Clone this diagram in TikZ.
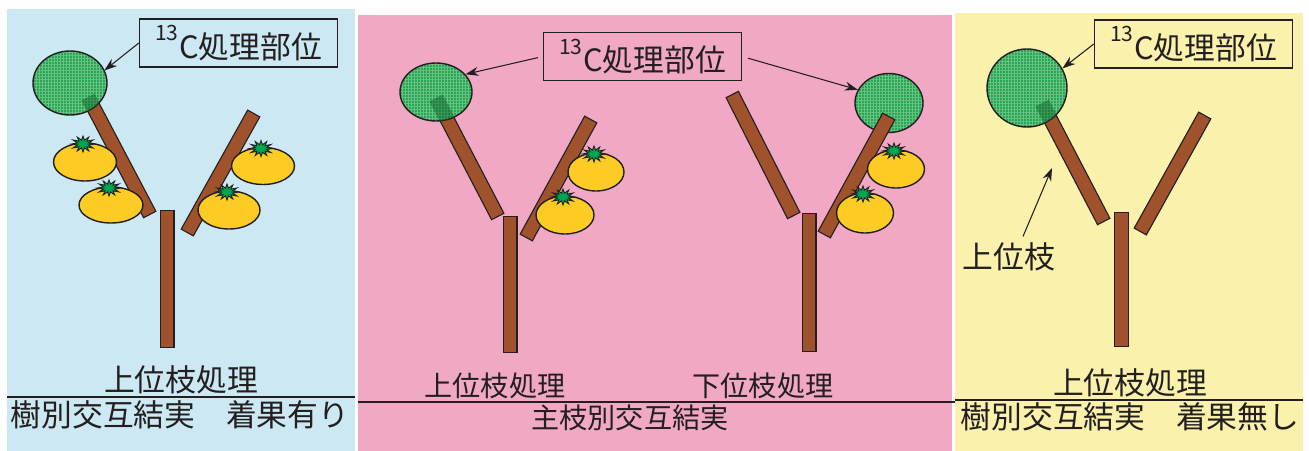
\documentclass[tikz,border=0pt]{standalone}
\usepackage{fontspec}
\usetikzlibrary{shapes.geometric, arrows.meta, patterns.meta, calc}
\newfontfamily\jpfont{Noto Sans CJK JP}
\definecolor{skyback}{RGB}{203,232,243}
\definecolor{pinkback}{RGB}{240,168,196}
\definecolor{creamback}{RGB}{249,241,172}
\definecolor{bark}{RGB}{160,82,45}
\definecolor{fruitcolor}{RGB}{252,204,36}
\definecolor{leafcolor}{RGB}{40,165,85}
\definecolor{leafgrid}{RGB}{105,195,130}
\definecolor{leafshade}{RGB}{20,100,45}
\definecolor{calyxcolor}{RGB}{0,165,80}
\definecolor{inkcolor}{RGB}{35,31,32}

% branch: outlined bar between two points
\newcommand\limb[2]{%
  \draw[limb edge] #1 -- #2;
  \draw[limb core] #1 -- #2;}
% fruit with its calyx on top: x, y, x radius, y radius
\newcommand\persimmon[4]{%
  \filldraw[fruit] (#1,#2) ellipse [x radius=#3, y radius=#4];
  \draw[calyx, shift={({#1-2},{#2-#4+1})}] plot[domain=0:360, samples=25, variable=\t]
    ({11.5*(0.75+0.25*cos(12*\t))*cos(\t)}, {8*(0.75+0.25*cos(12*\t))*sin(\t)}) -- cycle;}
\newcommand\carbonlabel{\raisebox{10pt}{\fontsize{12pt}{12pt}\selectfont 13}\kern0.5pt C処理部位}

\begin{document}
\begin{tikzpicture}[
    x=0.2mm, y=-0.2mm,
    tag/.style={rectangle, draw=inkcolor, line width=0.8pt, minimum width=39.6mm, minimum height=9.6mm, inner sep=0pt, text=inkcolor, font=\jpfont\fontsize{17.5pt}{20pt}\selectfont},
    caption/.style={inner sep=0pt, text=inkcolor, font=\jpfont\fontsize{17.5pt}{20pt}\selectfont},
    small caption/.style={inner sep=0pt, text=inkcolor, font=\jpfont\fontsize{16pt}{18pt}\selectfont},
    leaf/.style={ellipse, draw=inkcolor, line width=0.8pt, preaction={fill=leafcolor}, pattern={Hatch[angle=0, distance=0.6mm, line width=0.25pt]}, pattern color=leafgrid, inner sep=0pt},
    arrow/.style={-{Stealth[length=2.6mm, width=1.8mm]}, draw=inkcolor, line width=0.6pt},
    limb edge/.style={line width=3mm, draw=inkcolor},
    limb core/.style={line width=2.5mm, draw=bark, shorten <=0.25mm, shorten >=0.25mm},
    limb shade/.style={line width=3mm, draw=leafshade, opacity=0.5},
    fruit/.style={fill=fruitcolor, draw=inkcolor, line width=0.8pt},
    calyx/.style={fill=calyxcolor, draw=inkcolor, line width=0.5pt},
    divider/.style={draw=inkcolor, line width=0.9pt}
]
    \useasboundingbox (0,0) rectangle (1309,451);

    % Panel backgrounds
    \fill[skyback] (7,9) rectangle (355,451);
    \fill[pinkback] (358,15) rectangle (952,451);
    \fill[creamback] (955,13) rectangle (1303,451);

    % Tree 1: upper branch treated, fruit on both branches
    \limb{(88,97)}{(150,215)}
    \limb{(187,233)}{(254,113)}
    \limb{(167,210)}{(167,348)}
    \node[leaf, minimum width=14.8mm, minimum height=12.8mm] (leaf1) at (70,83) {};
    \begin{scope}
        \clip (70,83) ellipse [x radius=37, y radius=32];
        \draw[limb shade] (88,97) -- (150,215);
    \end{scope}
    \persimmon{85}{162}{31.5}{19}
    \persimmon{111}{205}{32}{18}
    \persimmon{263}{166}{31.5}{18.5}
    \persimmon{229}{210}{31}{19}
    \node[tag] (tag1) at (238.5,43) {\carbonlabel};
    \draw[arrow] (tag1.west) -- (leaf1.20);

    % Tree 2: upper branch treated, fruit on the other branch
    \limb{(436,98)}{(498,217)}
    \limb{(510,216)}{(510,353)}
    \limb{(526,238)}{(591,119)}
    \node[leaf, minimum width=14.4mm, minimum height=11.6mm] (leaf2) at (436,92) {};
    \begin{scope}
        \clip (436,92) ellipse [x radius=36, y radius=29];
        \draw[limb shade] (436,98) -- (498,217);
    \end{scope}
    \persimmon{596}{172}{28}{19}
    \persimmon{565}{215}{29}{19}

    % Tree 3: lower branch treated, fruit on the treated branch
    \node[leaf, minimum width=13.6mm, minimum height=11.8mm] (leaf3) at (889,103) {};
    \limb{(732,94)}{(794,216)}
    \limb{(809,213)}{(809,352)}
    \limb{(824,235)}{(889,116)}
    \persimmon{896}{169}{28.5}{19}
    \persimmon{865}{213}{28.5}{20}

    \node[tag] (tag2) at (642.5,56.5) {\carbonlabel};
    \draw[arrow, shorten <=1mm] (tag2.west) -- (leaf2.31);
    \draw[arrow, shorten <=1.2mm] (tag2.east) -- (leaf3.157);

    % Tree 4: upper branch treated, no fruit
    \limb{(1042,103)}{(1104,222)}
    \limb{(1121.5,212)}{(1121.5,347)}
    \limb{(1140,232)}{(1205,115)}
    \node[leaf, minimum width=16mm, minimum height=15.6mm] (leaf4) at (1027,88) {};
    \begin{scope}
        \clip (1027,88) ellipse [x radius=40, y radius=39];
        \draw[limb shade] (1042,103) -- (1104,222);
    \end{scope}
    \node[tag] (tag4) at (1193.5,44) {\carbonlabel};
    \draw[arrow] (tag4.west) -- (leaf4.29);
    \node[caption] (upper) at (1009,257) {上位枝};
    \coordinate (uppertip) at (1052,168);
    \draw[arrow] ([shift={(2.8mm,1.2mm)}]upper.north) -- (uppertip);

    % Captions
    \node[caption] (cap1) at (181,380) {上位枝処理};
    \node[caption] (cap1b) at (180,415) {樹別交互結実　着果有り};
    \node[small caption] (cap2) at (495,386) {上位枝処理};
    \node[small caption] (cap3) at (763,386) {下位枝処理};
    \node[small caption] (cap23) at (630,418) {主枝別交互結実};
    \node[caption] (cap4) at (1130,383) {上位枝処理};
    \node[caption] (cap4b) at (1130,417) {樹別交互結実　着果無し};

    % Dividers
    \draw[divider] (7,397) -- (355,397);
    \draw[divider] (358,402) -- (955,402);
    \draw[divider] (955,400) -- (1303,400);
\end{tikzpicture}
\end{document}
